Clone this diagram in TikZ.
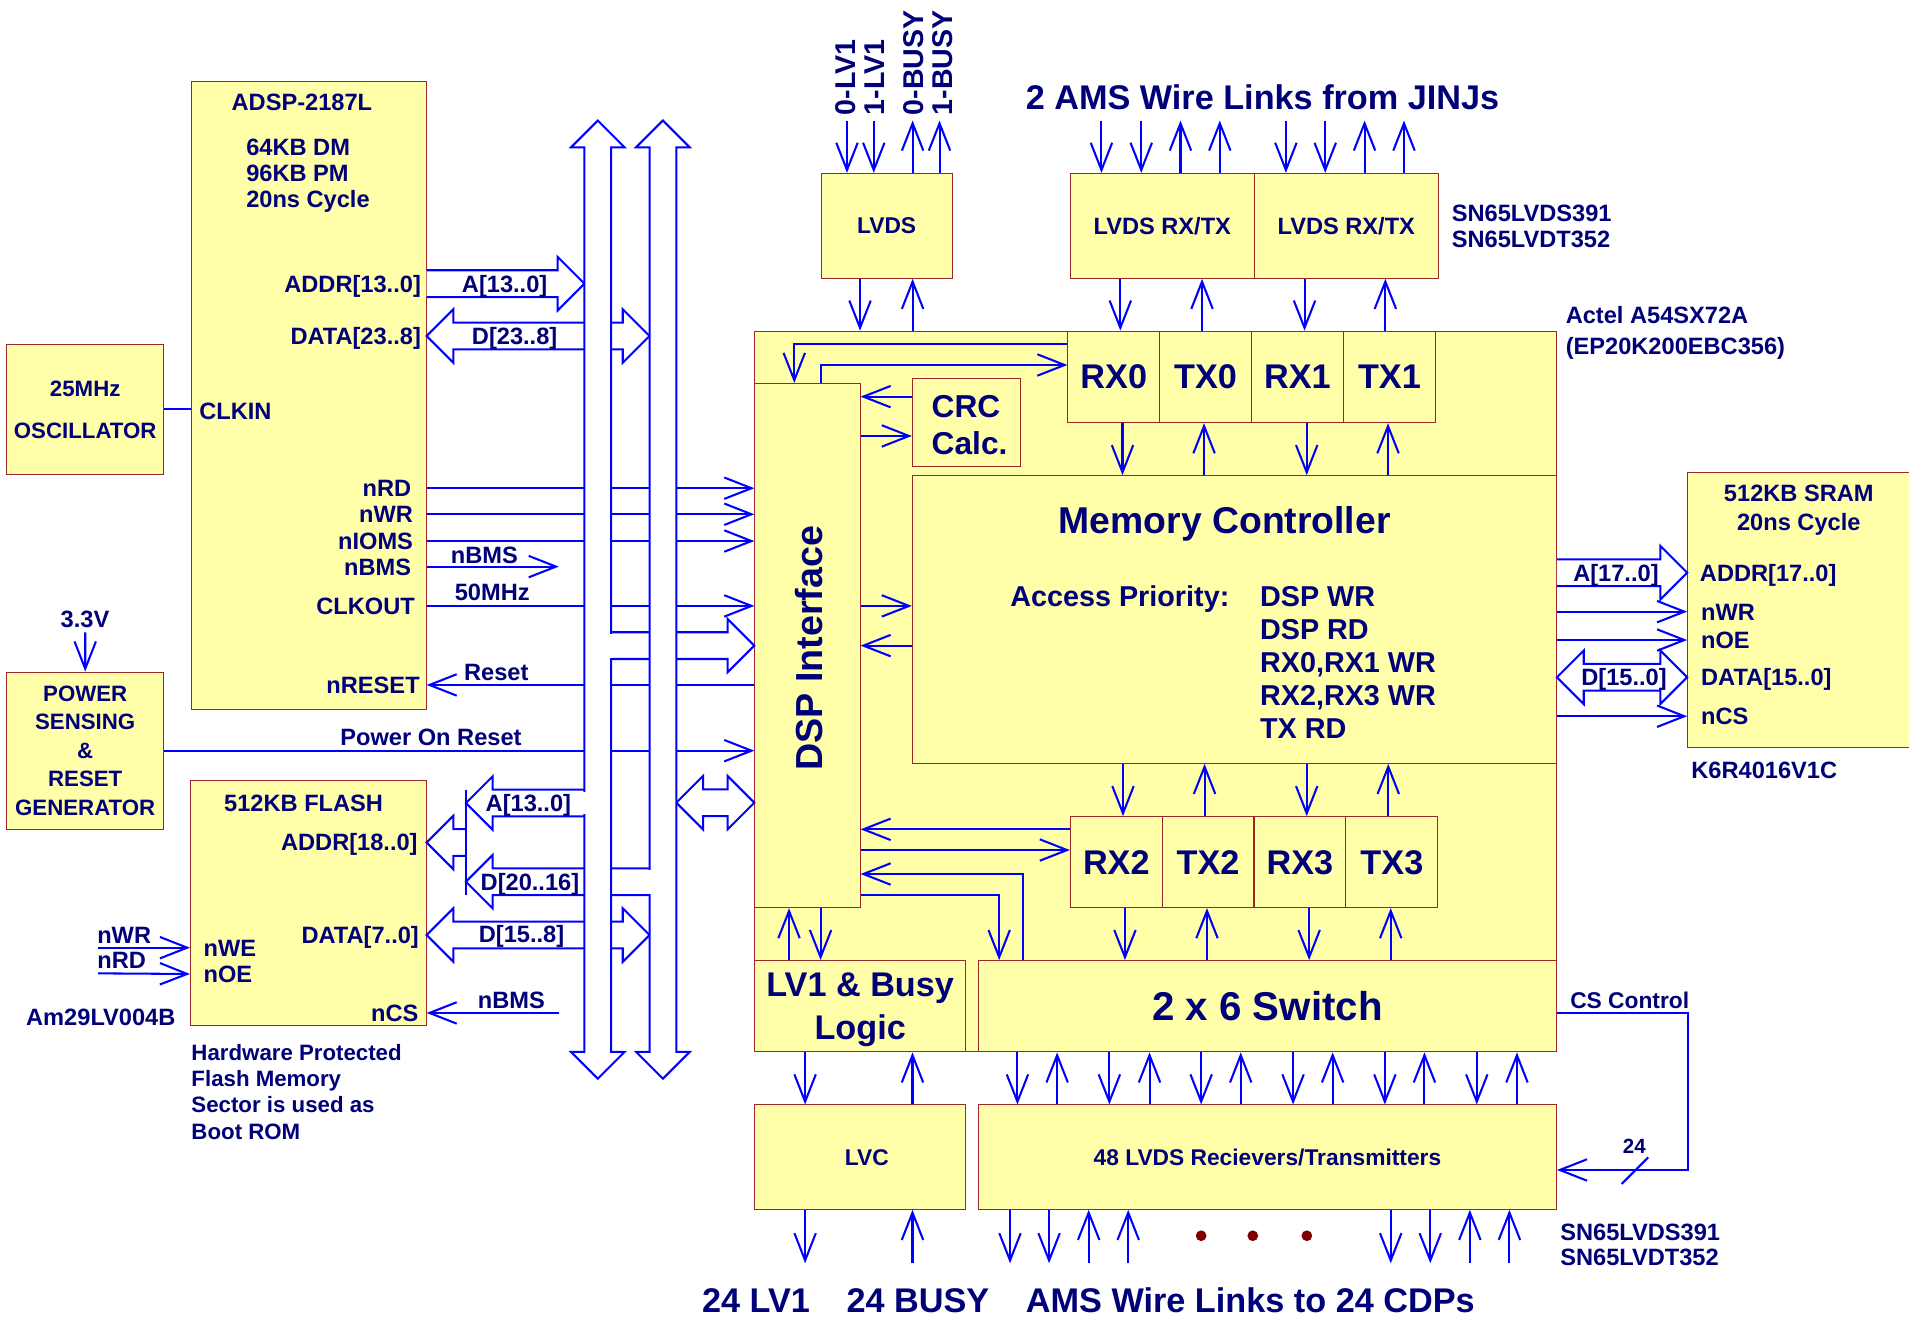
\documentclass[tikz,border=0pt]{standalone}
\usepackage{fontspec}
\setmainfont{Liberation Sans}
\usetikzlibrary{arrows.meta, positioning, calc, fit}
\definecolor{boxfill}{RGB}{255,255,170}
\definecolor{boxline}{RGB}{155,40,40}
\definecolor{wireblue}{RGB}{0,0,255}
\definecolor{ink}{RGB}{0,0,120}
\definecolor{dotred}{RGB}{128,0,0}
\tikzset{
  box/.style={rectangle, draw=boxline, fill=boxfill, line width=0.6pt, inner sep=0pt},
  txt/.style={text=ink, inner sep=0pt, text depth=0pt, font=\bfseries\fontsize{13.8}{16.5}\selectfont},
  pinlbl/.style={txt, text height=9.9pt},
  fsmall/.style={font=\bfseries\fontsize{13.3}{16}\selectfont},
  fmid/.style={font=\bfseries\fontsize{16.8}{19.2}\selectfont},
  fbig/.style={font=\bfseries\fontsize{20}{25}\selectfont},
  fhuge/.style={font=\bfseries\fontsize{22}{26}\selectfont},
  wire/.style={draw=wireblue, line width=1.2pt},
  arrow/.style={wire, -{Straight Barb[length=0.56cm, width=0.44cm]}},
  bus/.style={wire, fill=white},
  gap/.style={draw=white, line width=2.6pt}
}
% hollow bus arrows
\newcommand{\wideR}[2]{%
  \draw[bus] ($(#1)+(0,-11)$) -- ($(#2)+(-22,-11)$) -- ($(#2)+(-22,-22)$) -- (#2)
    -- ($(#2)+(-22,22)$) -- ($(#2)+(-22,11)$) -- ($(#1)+(0,11)$);}
\newcommand{\wideL}[2]{%
  \draw[bus] ($(#1)+(0,-11)$) -- ($(#2)+(22,-11)$) -- ($(#2)+(22,-22)$) -- (#2)
    -- ($(#2)+(22,22)$) -- ($(#2)+(22,11)$) -- ($(#1)+(0,11)$);}
\newcommand{\wideLR}[2]{%
  \draw[bus] (#1) -- ($(#1)+(22,-22)$) -- ($(#1)+(22,-11)$) -- ($(#2)+(-22,-11)$) -- ($(#2)+(-22,-22)$) -- (#2)
    -- ($(#2)+(-22,22)$) -- ($(#2)+(-22,11)$) -- ($(#1)+(22,11)$) -- ($(#1)+(22,22)$) -- cycle;}
\newcommand{\busV}[2]{%
  \draw[bus] ($(#1)+(-11,22)$) -- ($(#1)+(-22,22)$) -- (#1) -- ($(#1)+(22,22)$) -- ($(#1)+(11,22)$)
    -- ($(#2)+(11,-22)$) -- ($(#2)+(22,-22)$) -- (#2) -- ($(#2)+(-22,-22)$) -- ($(#2)+(-11,-22)$) -- cycle;}

\begin{document}
\begin{tikzpicture}[x=0.025cm, y=-0.025cm]
  \fill[white] (0,0) rectangle (1568,1082);
  \useasboundingbox (0,0) rectangle (1568,1082);

  \coordinate (b1w) at (480,0);
  \coordinate (b1e) at (502,0);
  \coordinate (b2w) at (533.5,0);
  \coordinate (b2e) at (555.5,0);
  \coordinate (jn) at (382.7,0);
  \coordinate (bus1top) at (491,99);
  \coordinate (bus1bot) at (491,886);
  \coordinate (bus2top) at (544.5,99);
  \coordinate (bus2bot) at (544.5,886);
  \coordinate (v33) at (70,519.4);
  \coordinate (bmsEnd) at (459,465.4);
  \coordinate (wrIn) at (80.6,778.4);
  \coordinate (rdIn) at (80.6,799.5);
  \coordinate (bmsIn) at (459.4,832);
  \coordinate (csR) at (1386.2,0);

  % blocks
  \node[box, fit={(5.5,283)(134.5,390)}] (osc) {};
  \node[box, fit={(157,67)(350,583)}] (adsp) {};
  \node[box, fit={(5.5,552)(134.5,681)}] (pwr) {};
  \node[box, fit={(156.5,640.7)(350,842.5)}] (flash) {};
  \node[box, fit={(674.5,142.4)(782,228.6)}] (lvds) {};
  \node[box, fit={(879.1,142.4)(1030.2,228.6)}] (jinjA) {};
  \node[box, fit={(1030.2,142.4)(1181.4,228.6)}] (jinjB) {};
  \node[box, fit={(620,272)(1278.4,864)}] (fpga) {};
  \node[box, fit={(620,315)(706.4,745.5)}] (dsp) {};
  \node[box, fit={(749.4,310.8)(838,383.3)}] (crc) {};
  \node[box, fit={(749.4,390.7)(1278.4,627)}] (mc) {};
  \foreach \nm/\xa/\xb in {RX0/877.2/952.4, TX0/952.4/1028, RX1/1028/1103.4, TX1/1103.4/1179.1}{
    \node[box, fit={(\xa,272)(\xb,347.2)}] (\nm) {};
    \node[txt, fbig] (t\nm) at (\nm) {\nm};
  }
  \foreach \nm/\xa/\xb in {RX2/879.2/954.6, TX2/954.6/1030, RX3/1030/1105.5, TX3/1105.5/1181}{
    \node[box, fit={(\xa,670.8)(\xb,745.5)}] (\nm) {};
    \node[txt, fbig] (t\nm) at (\nm) {\nm};
  }
  \node[box, fit={(620,789)(793,864)}] (lv1) {};
  \node[box, fit={(803.7,789)(1278.4,864)}] (sw) {};
  \node[box, fit={(620,907.6)(793,993.3)}] (lvc) {};
  \node[box, fit={(803.7,907.6)(1278.4,993.3)}] (lvds48) {};
  \node[box, fit={(1386.2,388.2)(1580,613.8)}] (sram) {};

  % block texts
  \node[txt, align=center, font=\bfseries\fontsize{13}{24.5}\selectfont] (oscT) at (osc) {25MHz\\OSCILLATOR};
  \node[txt, align=center, font=\bfseries\fontsize{13}{16.7}\selectfont] (pwrT) at (pwr) {POWER\\SENSING\\\&\\RESET\\GENERATOR};
  \node[txt, fsmall] (lvdsT) at (lvds) {LVDS};
  \node[txt] (jinjAT) at (jinjA) {LVDS RX/TX};
  \node[txt] (jinjBT) at (jinjB) {LVDS RX/TX};
  \node[txt, fbig, align=center] (lv1T) at (lv1) {LV1 \& Busy\\Logic};
  \node[txt, font=\bfseries\fontsize{23.5}{28}\selectfont] (swT) at (sw) {2 x 6 Switch};
  \node[txt, fsmall] (lvcT) at (712,950.5) {LVC};
  \node[txt, fsmall] (lvds48T) at (lvds48) {48 LVDS Recievers/Transmitters};

  % pin labels
  \node[txt] (adspT) at (248,84) {ADSP-2187L};
  \node[txt, anchor=west, align=left, font=\bfseries\fontsize{13.8}{15.2}\selectfont] (adspM) at (202,142.4) {64KB DM\\96KB PM\\20ns Cycle};
  \node[pinlbl, anchor=east] (pAddr) at (346,233) {ADDR[13..0]};
  \node[pinlbl, anchor=east] (pData) at (346,276) {DATA[23..8]};
  \node[pinlbl, anchor=west] (pClkin) at (163.4,338) {CLKIN};
  \node[pinlbl, anchor=east] (pRD) at (338,401) {nRD};
  \node[pinlbl, anchor=east] (pWR) at (339.5,422.4) {nWR};
  \node[pinlbl, anchor=east] (pIOMS) at (339.5,444.4) {nIOMS};
  \node[pinlbl, anchor=east] (pBMS) at (338,465.4) {nBMS};
  \node[pinlbl, anchor=east] (pClk) at (341,497.7) {CLKOUT};
  \node[pinlbl, anchor=east] (pRst) at (345,562.6) {nRESET};
  \node[txt] (flashT) at (249.4,659.8) {512KB FLASH};
  \node[pinlbl, anchor=east] (pFAddr) at (343.3,692) {ADDR[18..0]};
  \node[pinlbl, anchor=east] (pFData) at (344.3,768) {DATA[7..0]};
  \node[pinlbl, anchor=east] (pCS) at (344,832) {nCS};
  \node[pinlbl, anchor=west] (pWE) at (167,778.4) {nWE};
  \node[pinlbl, anchor=west] (pOE) at (167,800) {nOE};
  \node[txt, align=center, font=\bfseries\fontsize{13.8}{16.6}\selectfont] (sramT) at (1477.5,417) {512KB SRAM\\20ns Cycle};
  \node[pinlbl, anchor=west] (sAddr) at (1396,470.4) {ADDR[17..0]};
  \node[pinlbl, anchor=west] (sWR) at (1397,502.4) {nWR};
  \node[pinlbl, anchor=west] (sOE) at (1397,525.7) {nOE};
  \node[pinlbl, anchor=west] (sData) at (1397,556.3) {DATA[15..0]};
  \node[pinlbl, anchor=west] (sCS) at (1397,588.3) {nCS};

  % single wires
  \draw[wire] (osc.east |- 0,336.2) -- (adsp.west |- 0,336.2);
  \draw[arrow] (v33) -- (pwr.north);
  \foreach \p in {pRD,pWR,pIOMS,pClk}
    \draw[arrow] (adsp.east |- \p) -- (dsp.west |- \p);
  \draw[arrow] (adsp.east |- pBMS) -- (bmsEnd);
  \draw[arrow] (dsp.west |- pRst) -- (adsp.east |- pRst);
  \draw[arrow] (pwr.east |- 0,616.6) -- (dsp.west |- 0,616.6);
  \draw[arrow] (wrIn) -- (flash.west |- pWE);
  \draw[arrow] (rdIn) -- (flash.west |- pOE);
  \draw[arrow] (bmsIn) -- (flash.east |- pCS);

  % buses
  \wideR{adsp.east |- pAddr}{b1w |- pAddr}
  \wideLR{adsp.east |- pData}{b2w |- pData}
  \wideR{b1e |- 0,530.3}{dsp.west |- 0,530.3}
  \wideLR{b2e |- 0,659.3}{dsp.west |- 0,659.3}
  \wideL{b1w |- 0,659.6}{jn |- 0,659.6}
  \wideL{b2w |- 0,724.2}{jn |- 0,724.2}
  \wideL{jn |- pFAddr}{flash.east |- pFAddr}
  \wideLR{flash.east |- pFData}{b2w |- pFData}
  \draw[wire] (jn |- 0,648.5) -- (jn |- 0,735.5);
  \busV{bus1top}{bus1bot}
  \busV{bus2top}{bus2bot}
  \draw[gap] (b1e |- 0,520.4) -- (b1e |- 0,540.2);
  \draw[gap] (b1w |- 0,650.6) -- (b1w |- 0,668.6);
  \draw[gap] (b2w |- 0,714.2) -- (b2w |- 0,734.2);

  % sram
  \wideR{mc.east |- sAddr}{sram.west |- sAddr}
  \wideLR{mc.east |- sData}{sram.west |- sData}
  \foreach \p in {sWR,sOE,sCS}
    \draw[arrow] (mc.east |- \p) -- (sram.west |- \p);

  % top links
  \foreach \x in {695.7,717.7} \draw[arrow] (\x,99) -- (lvds.north -| \x,0);
  \foreach \x in {749.6,771.7} \draw[arrow] (lvds.north -| \x,0) -- (\x,99);
  \foreach \x in {904.7,937.4} \draw[arrow] (\x,99) -- (jinjA.north -| \x,0);
  \foreach \x in {969.6,1001.9} \draw[arrow] (jinjA.north -| \x,0) -- (\x,99);
  \foreach \x in {1056.2,1088.5} \draw[arrow] (\x,99) -- (jinjB.north -| \x,0);
  \foreach \x in {1120.8,1153.2} \draw[arrow] (jinjB.north -| \x,0) -- (\x,99);

  % vertical links between blocks
  \foreach \a/\b/\x in {lvds/fpga/706.4, jinjA/RX0/920.2, jinjB/RX1/1071.5, RX0/mc/922, RX1/mc/1073.3,
      mc/RX2/922.4, mc/RX3/1073.3, RX2/sw/924, RX3/sw/1075.3, dsp/lv1/674, lv1/lvc/661.3}
    \draw[arrow] (\a.south -| \x,0) -- (\b.north -| \x,0);
  \foreach \a/\b/\x in {fpga/lvds/749.6, TX0/jinjA/987.3, TX1/jinjB/1137.9, mc/TX0/989, mc/TX1/1140.1,
      TX2/mc/989.4, TX3/mc/1140.3, sw/TX2/991.4, sw/TX3/1142.3, lv1/dsp/648.1, lvc/lv1/749.5}
    \draw[arrow] (\a.north -| \x,0) -- (\b.south -| \x,0);
  \foreach \x in {835.7,911.2,986.6,1062.1,1137.5,1213}
    \draw[arrow] (sw.south -| \x,0) -- (lvds48.north -| \x,0);
  \foreach \x in {868.3,944.2,1019.1,1094.6,1170,1246}
    \draw[arrow] (lvds48.north -| \x,0) -- (sw.south -| \x,0);
  \foreach \x in {829.6,861.7,1142.3,1174.8}
    \draw[arrow] (lvds48.south -| \x,0) -- (\x,1037.6);
  \foreach \x in {894.2,926.7,1207.3,1239.8}
    \draw[arrow] (\x,1037.6) -- (lvds48.south -| \x,0);
  \draw[arrow] (lvc.south -| 661.3,0) -- (661.3,1037.6);
  \draw[arrow] (749.5,1037.6) -- (lvc.south -| 749.5,0);
  \foreach \x [count=\i] in {986.6,1029,1073.4}
    \fill[dotred] (\x,1015) circle (0.11cm) coordinate (dot\i);

  % dsp interface links
  \draw[arrow] (RX0.west |- 0,282.5) -| (dsp.north -| 652.4,0);
  \draw[arrow] (dsp.north -| 674,0) |- (RX0.west |- 0,299.8);
  \draw[arrow] (crc.west |- 0,325.8) -- (dsp.east |- 0,325.8);
  \draw[arrow] (dsp.east |- 0,358.1) -- (crc.west |- 0,358.1);
  \draw[arrow] (dsp.east |- 0,497.7) -- (mc.west |- 0,497.7);
  \draw[arrow] (mc.west |- 0,530.3) -- (dsp.east |- 0,530.3);
  \draw[arrow] (RX2.west |- 0,681.2) -- (dsp.east |- 0,681.2);
  \draw[arrow] (dsp.east |- 0,698.2) -- (RX2.west |- 0,698.2);
  \draw[arrow] (sw.north -| 840.5,0) |- (dsp.east |- 0,717.9);
  \draw[arrow] (dsp.east |- 0,735.1) -| (sw.north -| 820.7,0);

  % CS control
  \draw[arrow] (sw.east |- 0,832.3) -| (csR |- 0,961) -- (lvds48.east |- 0,961);
  \draw[wire] (1332,972.5) -- (1353.8,950.6);

  % texts
  \node[txt] (t33) at (69.8,508.7) {3.3V};
  \node[txt] (lBMS) at (397.9,455.8) {nBMS};
  \node[txt] (l50) at (404.3,486.8) {50MHz};
  \node[txt] (lRst) at (407.6,552.5) {Reset};
  \node[txt] (lPor) at (354,605.6) {Power On Reset};
  \node[txt] (lBMS2) at (420,821.9) {nBMS};
  \node[txt] (lWR) at (102,768) {nWR};
  \node[txt] (lRD) at (100,789) {nRD};
  \node[txt] (lA1) at (414.5,233) {A[13..0]};
  \node[txt] (lD1) at (422.7,276) {D[23..8]};
  \node[txt] (lA2) at (434,659.6) {A[13..0]};
  \node[txt] (lD2) at (435.3,724.2) {D[20..16]};
  \node[txt] (lD3) at (428.4,767) {D[15..8]};
  \node[txt] (lA3) at (1327.3,470.4) {A[17..0]};
  \node[txt] (lD4) at (1333.9,556.3) {D[15..0]};
  \node[txt] (am29) at (82.8,835.9) {Am29LV004B};
  \node[txt, anchor=west, align=left, font=\bfseries\fontsize{13}{15.3}\selectfont] (hwNote) at (157,896.8) {Hardware Protected\\Flash Memory\\Sector is used as\\Boot ROM};
  \foreach \x/\t [count=\i] in {694.6/0-LV1, 718.4/1-LV1, 750.7/0-BUSY, 774.5/1-BUSY}
    \node[txt, font=\bfseries\fontsize{16.7}{20}\selectfont, rotate=90, anchor=west] (top\i) at (\x,95) {\t};
  \node[txt, fbig] (jinjT) at (1037,79.4) {2 AMS Wire Links from JINJs};
  \node[txt, anchor=west, align=left, font=\bfseries\fontsize{13.8}{15.2}\selectfont] (snTop) at (1192.2,186) {SN65LVDS391\\SN65LVDT352};
  \node[txt, anchor=west, align=left, font=\bfseries\fontsize{13.8}{17.9}\selectfont] (actel) at (1285.8,271.3) {Actel A54SX72A\\(EP20K200EBC356)};
  \node[txt, anchor=west, align=left, font=\bfseries\fontsize{13.8}{14.6}\selectfont] (snBot) at (1281.3,1022) {SN65LVDS391\\SN65LVDT352};
  \node[txt, anchor=west] (k6r) at (1389,632.4) {K6R4016V1C};
  \node[txt, anchor=west, align=left, font=\bfseries\fontsize{18.5}{21.3}\selectfont] (crcT) at (765,349) {CRC\\Calc.};
  \node[txt, fhuge, rotate=90] (dspT) at (664.5,532.5) {DSP Interface};
  \node[txt, font=\bfseries\fontsize{21.8}{26}\selectfont] (mcT) at (1006,427) {Memory Controller};
  \node[txt, fmid, anchor=west] (mcA) at (829.6,490) {Access Priority:};
  \node[txt, anchor=west, align=left, font=\bfseries\fontsize{16.8}{19.24}\selectfont] (mcL) at (1034.7,544) {DSP WR\\DSP RD\\RX0,RX1 WR\\RX2,RX3 WR\\TX RD};
  \node[txt, fsmall, anchor=west] (csT) at (1289.5,821.4) {CS Control};
  \node[txt, font=\bfseries\fontsize{12}{14}\selectfont] (n24) at (1342.4,941.8) {24};
  \node[txt, fbig] (bLV1) at (621,1068) {24 LV1};
  \node[txt, fbig] (bBusy) at (754,1068) {24 BUSY};
  \node[txt, fbig] (bAMS) at (1027,1068) {AMS Wire Links to 24 CDPs};
\end{tikzpicture}
\end{document}
